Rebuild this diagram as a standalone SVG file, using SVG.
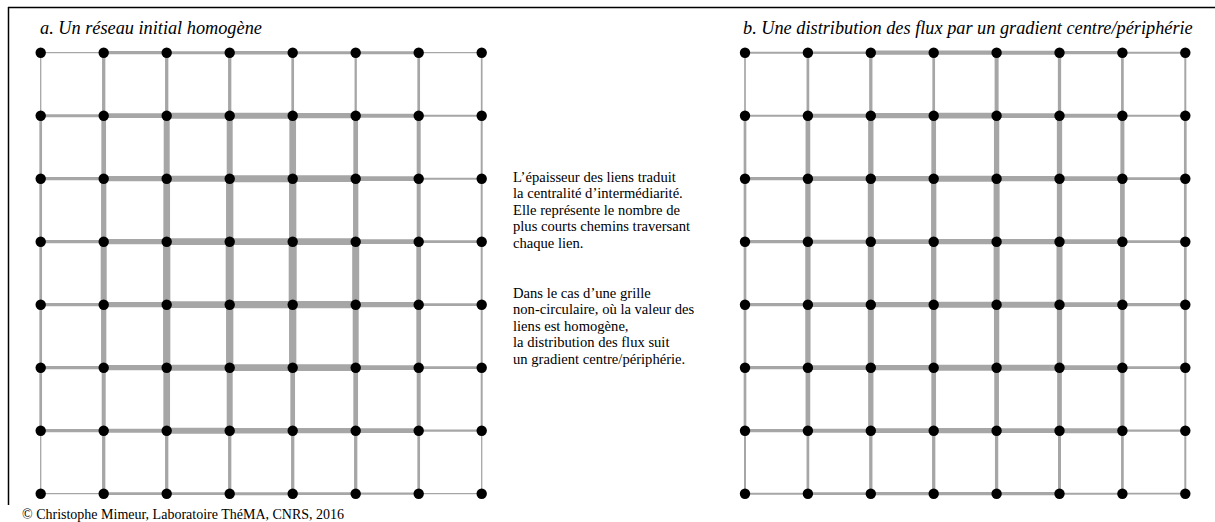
<svg xmlns="http://www.w3.org/2000/svg" width="1215" height="522" viewBox="0 0 1215 522">
<style>
.e path{fill:none;stroke:#a6a6a6;stroke-linecap:butt}
.n circle{fill:#000}
.t{font-family:"Liberation Serif","Times New Roman",serif;fill:#000}
.ti{font-style:italic;font-size:18.3px}
.p{font-size:14.6px}
.f{font-size:14px}
</style>
<rect width="1215" height="522" fill="#fff"/>
<path d="M8 7.5H1215M8.5 7V505" stroke="#000" stroke-width="1.5" fill="none"/>
<text class="t ti" x="40" y="34">a. Un réseau initial homogène</text>
<text class="t ti" x="743" y="34">b. Une distribution des flux par un gradient centre/périphérie</text>
<g class="t p">
<text x="513" y="181.6">L’épaisseur des liens traduit</text>
<text x="513" y="198.2">la centralité d’intermédiarité.</text>
<text x="513" y="214.8">Elle représente le nombre de</text>
<text x="513" y="231.4">plus courts chemins traversant</text>
<text x="513" y="248">chaque lien.</text>
<text x="513" y="297.6">Dans le cas d’une grille</text>
<text x="513" y="314.2">non-circulaire, où la valeur des</text>
<text x="513" y="330.8">liens est homogène,</text>
<text x="513" y="347.4">la distribution des flux suit</text>
<text x="513" y="364">un gradient centre/périphérie.</text>
</g>
<text class="t f" x="22" y="519">© Christophe Mimeur, Laboratoire ThéMA, CNRS, 2016</text>

<g id="connectors">
<g class="e" id="edges-a" transform="translate(40.7,52.7)">
<path d="M0 0h63" stroke-width="1.3"/><path d="M63 0h63" stroke-width="3.3"/><path d="M126 0h63" stroke-width="3"/><path d="M189 0h63" stroke-width="3.5"/><path d="M252 0h63" stroke-width="3"/><path d="M315 0h63" stroke-width="3"/><path d="M378 0h63" stroke-width="1.3"/>
<path d="M0 63h63" stroke-width="3"/><path d="M63 63h63" stroke-width="4.7"/><path d="M126 63h63" stroke-width="6"/><path d="M189 63h63" stroke-width="6"/><path d="M252 63h63" stroke-width="5.3"/><path d="M315 63h63" stroke-width="4"/><path d="M378 63h63" stroke-width="2"/>
<path d="M0 126h63" stroke-width="3.3"/><path d="M63 126h63" stroke-width="5.3"/><path d="M126 126h63" stroke-width="6"/><path d="M189 126h63" stroke-width="7"/><path d="M252 126h63" stroke-width="6.7"/><path d="M315 126h63" stroke-width="4.7"/><path d="M378 126h63" stroke-width="2"/>
<path d="M0 189h63" stroke-width="3.3"/><path d="M63 189h63" stroke-width="5.3"/><path d="M126 189h63" stroke-width="6.7"/><path d="M189 189h63" stroke-width="6.7"/><path d="M252 189h63" stroke-width="6.7"/><path d="M315 189h63" stroke-width="4.7"/><path d="M378 189h63" stroke-width="2.7"/>
<path d="M0 252h63" stroke-width="3.3"/><path d="M63 252h63" stroke-width="5.3"/><path d="M126 252h63" stroke-width="6.7"/><path d="M189 252h63" stroke-width="7.3"/><path d="M252 252h63" stroke-width="7.3"/><path d="M315 252h63" stroke-width="5.3"/><path d="M378 252h63" stroke-width="2.7"/>
<path d="M0 315h63" stroke-width="3.3"/><path d="M63 315h63" stroke-width="5.3"/><path d="M126 315h63" stroke-width="6"/><path d="M189 315h63" stroke-width="6.7"/><path d="M252 315h63" stroke-width="6.7"/><path d="M315 315h63" stroke-width="4.7"/><path d="M378 315h63" stroke-width="2.7"/>
<path d="M0 378h63" stroke-width="3.3"/><path d="M63 378h63" stroke-width="4"/><path d="M126 378h63" stroke-width="6"/><path d="M189 378h63" stroke-width="5.5"/><path d="M252 378h63" stroke-width="5.3"/><path d="M315 378h63" stroke-width="4.7"/><path d="M378 378h63" stroke-width="2.3"/>
<path d="M0 441h63" stroke-width="1.3"/><path d="M63 441h63" stroke-width="2.7"/><path d="M126 441h63" stroke-width="2.7"/><path d="M189 441h63" stroke-width="3"/><path d="M252 441h63" stroke-width="2.7"/><path d="M315 441h63" stroke-width="2.3"/><path d="M378 441h63" stroke-width="1.3"/>
<path d="M0 0v63" stroke-width="1.3"/><path d="M63 0v63" stroke-width="3.3"/><path d="M126 0v63" stroke-width="3.3"/><path d="M189 0v63" stroke-width="3.3"/><path d="M252 0v63" stroke-width="2.7"/><path d="M315 0v63" stroke-width="2.3"/><path d="M378 0v63" stroke-width="2.7"/><path d="M441 0v63" stroke-width="1.7"/>
<path d="M0 63v63" stroke-width="2.7"/><path d="M63 63v63" stroke-width="4.7"/><path d="M126 63v63" stroke-width="6"/><path d="M189 63v63" stroke-width="6"/><path d="M252 63v63" stroke-width="6.7"/><path d="M315 63v63" stroke-width="4.7"/><path d="M378 63v63" stroke-width="4"/><path d="M441 63v63" stroke-width="2"/>
<path d="M0 126v63" stroke-width="2.7"/><path d="M63 126v63" stroke-width="5.3"/><path d="M126 126v63" stroke-width="6.7"/><path d="M189 126v63" stroke-width="7.3"/><path d="M252 126v63" stroke-width="7.3"/><path d="M315 126v63" stroke-width="5.3"/><path d="M378 126v63" stroke-width="4"/><path d="M441 126v63" stroke-width="2"/>
<path d="M0 189v63" stroke-width="2.7"/><path d="M63 189v63" stroke-width="6"/><path d="M126 189v63" stroke-width="7.3"/><path d="M189 189v63" stroke-width="8"/><path d="M252 189v63" stroke-width="8"/><path d="M315 189v63" stroke-width="7"/><path d="M378 189v63" stroke-width="4.7"/><path d="M441 189v63" stroke-width="2"/>
<path d="M0 252v63" stroke-width="2.7"/><path d="M63 252v63" stroke-width="5.3"/><path d="M126 252v63" stroke-width="7.3"/><path d="M189 252v63" stroke-width="7.3"/><path d="M252 252v63" stroke-width="7.3"/><path d="M315 252v63" stroke-width="6"/><path d="M378 252v63" stroke-width="4.7"/><path d="M441 252v63" stroke-width="2"/>
<path d="M0 315v63" stroke-width="2.7"/><path d="M63 315v63" stroke-width="4"/><path d="M126 315v63" stroke-width="6.7"/><path d="M189 315v63" stroke-width="6"/><path d="M252 315v63" stroke-width="4.7"/><path d="M315 315v63" stroke-width="4.7"/><path d="M378 315v63" stroke-width="4"/><path d="M441 315v63" stroke-width="2"/>
<path d="M0 378v63" stroke-width="1.3"/><path d="M63 378v63" stroke-width="3.3"/><path d="M126 378v63" stroke-width="3.3"/><path d="M189 378v63" stroke-width="3.3"/><path d="M252 378v63" stroke-width="3.3"/><path d="M315 378v63" stroke-width="3.3"/><path d="M378 378v63" stroke-width="2.7"/><path d="M441 378v63" stroke-width="1.3"/>
</g>
<g class="e" id="edges-b" transform="translate(745,52.7)">
<path d="M0 0h62.9" stroke-width="2"/><path d="M62.9 0h62.9" stroke-width="2.5"/><path d="M125.8 0h62.9" stroke-width="4.3"/><path d="M188.7 0h62.9" stroke-width="4.3"/><path d="M251.6 0h62.9" stroke-width="4"/><path d="M314.5 0h62.9" stroke-width="3.3"/><path d="M377.4 0h62.9" stroke-width="2"/>
<path d="M0 63h62.9" stroke-width="2"/><path d="M62.9 63h62.9" stroke-width="4"/><path d="M125.8 63h62.9" stroke-width="5.3"/><path d="M188.7 63h62.9" stroke-width="5.7"/><path d="M251.6 63h62.9" stroke-width="4.7"/><path d="M314.5 63h62.9" stroke-width="4"/><path d="M377.4 63h62.9" stroke-width="2"/>
<path d="M0 126h62.9" stroke-width="3.3"/><path d="M62.9 126h62.9" stroke-width="4.7"/><path d="M125.8 126h62.9" stroke-width="5.3"/><path d="M188.7 126h62.9" stroke-width="6"/><path d="M251.6 126h62.9" stroke-width="5.3"/><path d="M314.5 126h62.9" stroke-width="4.7"/><path d="M377.4 126h62.9" stroke-width="2.7"/>
<path d="M0 189h62.9" stroke-width="3.3"/><path d="M62.9 189h62.9" stroke-width="4"/><path d="M125.8 189h62.9" stroke-width="4.7"/><path d="M188.7 189h62.9" stroke-width="5.3"/><path d="M251.6 189h62.9" stroke-width="5.3"/><path d="M314.5 189h62.9" stroke-width="4.7"/><path d="M377.4 189h62.9" stroke-width="2.7"/>
<path d="M0 252h62.9" stroke-width="3.3"/><path d="M62.9 252h62.9" stroke-width="4.7"/><path d="M125.8 252h62.9" stroke-width="5.3"/><path d="M188.7 252h62.9" stroke-width="6"/><path d="M251.6 252h62.9" stroke-width="6"/><path d="M314.5 252h62.9" stroke-width="4.7"/><path d="M377.4 252h62.9" stroke-width="3.3"/>
<path d="M0 315h62.9" stroke-width="3.3"/><path d="M62.9 315h62.9" stroke-width="4.7"/><path d="M125.8 315h62.9" stroke-width="5.3"/><path d="M188.7 315h62.9" stroke-width="6"/><path d="M251.6 315h62.9" stroke-width="6"/><path d="M314.5 315h62.9" stroke-width="4.7"/><path d="M377.4 315h62.9" stroke-width="2.7"/>
<path d="M0 378h62.9" stroke-width="3.3"/><path d="M62.9 378h62.9" stroke-width="4"/><path d="M125.8 378h62.9" stroke-width="4.7"/><path d="M188.7 378h62.9" stroke-width="5.3"/><path d="M251.6 378h62.9" stroke-width="4.7"/><path d="M314.5 378h62.9" stroke-width="5"/><path d="M377.4 378h62.9" stroke-width="2.3"/>
<path d="M0 441h62.9" stroke-width="2"/><path d="M62.9 441h62.9" stroke-width="2.7"/><path d="M125.8 441h62.9" stroke-width="3.3"/><path d="M188.7 441h62.9" stroke-width="3.3"/><path d="M251.6 441h62.9" stroke-width="3.3"/><path d="M314.5 441h62.9" stroke-width="2"/><path d="M377.4 441h62.9" stroke-width="1.7"/>
<path d="M0 0v63" stroke-width="1.7"/><path d="M62.9 0v63" stroke-width="2.7"/><path d="M125.8 0v63" stroke-width="3.3"/><path d="M188.7 0v63" stroke-width="2.7"/><path d="M251.6 0v63" stroke-width="4"/><path d="M314.5 0v63" stroke-width="3.3"/><path d="M377.4 0v63" stroke-width="2.7"/><path d="M440.3 0v63" stroke-width="2"/>
<path d="M0 63v63" stroke-width="2.7"/><path d="M62.9 63v63" stroke-width="4.7"/><path d="M125.8 63v63" stroke-width="5.3"/><path d="M188.7 63v63" stroke-width="4.7"/><path d="M251.6 63v63" stroke-width="5.3"/><path d="M314.5 63v63" stroke-width="5.3"/><path d="M377.4 63v63" stroke-width="4"/><path d="M440.3 63v63" stroke-width="2.7"/>
<path d="M0 126v63" stroke-width="2.7"/><path d="M62.9 126v63" stroke-width="5.3"/><path d="M125.8 126v63" stroke-width="6"/><path d="M188.7 126v63" stroke-width="5.3"/><path d="M251.6 126v63" stroke-width="6"/><path d="M314.5 126v63" stroke-width="5.3"/><path d="M377.4 126v63" stroke-width="4.7"/><path d="M440.3 126v63" stroke-width="2.7"/>
<path d="M0 189v63" stroke-width="2.7"/><path d="M62.9 189v63" stroke-width="5.3"/><path d="M125.8 189v63" stroke-width="6"/><path d="M188.7 189v63" stroke-width="5.3"/><path d="M251.6 189v63" stroke-width="6"/><path d="M314.5 189v63" stroke-width="6"/><path d="M377.4 189v63" stroke-width="4.7"/><path d="M440.3 189v63" stroke-width="2.7"/>
<path d="M0 252v63" stroke-width="2.7"/><path d="M62.9 252v63" stroke-width="5.3"/><path d="M125.8 252v63" stroke-width="6"/><path d="M188.7 252v63" stroke-width="5.3"/><path d="M251.6 252v63" stroke-width="5.3"/><path d="M314.5 252v63" stroke-width="5.3"/><path d="M377.4 252v63" stroke-width="4"/><path d="M440.3 252v63" stroke-width="2.7"/>
<path d="M0 315v63" stroke-width="2.7"/><path d="M62.9 315v63" stroke-width="4.7"/><path d="M125.8 315v63" stroke-width="5.3"/><path d="M188.7 315v63" stroke-width="4.7"/><path d="M251.6 315v63" stroke-width="4.7"/><path d="M314.5 315v63" stroke-width="4.7"/><path d="M377.4 315v63" stroke-width="4"/><path d="M440.3 315v63" stroke-width="2"/>
<path d="M0 378v63" stroke-width="2"/><path d="M62.9 378v63" stroke-width="2.7"/><path d="M125.8 378v63" stroke-width="3.3"/><path d="M188.7 378v63" stroke-width="3.3"/><path d="M251.6 378v63" stroke-width="3.3"/><path d="M314.5 378v63" stroke-width="3"/><path d="M377.4 378v63" stroke-width="2.7"/><path d="M440.3 378v63" stroke-width="2"/>
</g>
</g>

<g class="n" id="nodes-a" transform="translate(40.7,52.7)">
<g id="a00"><circle cx="0" cy="0" r="5.2"/></g><g id="a01"><circle cx="63" cy="0" r="5.2"/></g><g id="a02"><circle cx="126" cy="0" r="5.2"/></g><g id="a03"><circle cx="189" cy="0" r="5.2"/></g><g id="a04"><circle cx="252" cy="0" r="5.2"/></g><g id="a05"><circle cx="315" cy="0" r="5.2"/></g><g id="a06"><circle cx="378" cy="0" r="5.2"/></g><g id="a07"><circle cx="441" cy="0" r="5.2"/></g>
<g id="a10"><circle cx="0" cy="63" r="5.2"/></g><g id="a11"><circle cx="63" cy="63" r="5.2"/></g><g id="a12"><circle cx="126" cy="63" r="5.2"/></g><g id="a13"><circle cx="189" cy="63" r="5.2"/></g><g id="a14"><circle cx="252" cy="63" r="5.2"/></g><g id="a15"><circle cx="315" cy="63" r="5.2"/></g><g id="a16"><circle cx="378" cy="63" r="5.2"/></g><g id="a17"><circle cx="441" cy="63" r="5.2"/></g>
<g id="a20"><circle cx="0" cy="126" r="5.2"/></g><g id="a21"><circle cx="63" cy="126" r="5.2"/></g><g id="a22"><circle cx="126" cy="126" r="5.2"/></g><g id="a23"><circle cx="189" cy="126" r="5.2"/></g><g id="a24"><circle cx="252" cy="126" r="5.2"/></g><g id="a25"><circle cx="315" cy="126" r="5.2"/></g><g id="a26"><circle cx="378" cy="126" r="5.2"/></g><g id="a27"><circle cx="441" cy="126" r="5.2"/></g>
<g id="a30"><circle cx="0" cy="189" r="5.2"/></g><g id="a31"><circle cx="63" cy="189" r="5.2"/></g><g id="a32"><circle cx="126" cy="189" r="5.2"/></g><g id="a33"><circle cx="189" cy="189" r="5.2"/></g><g id="a34"><circle cx="252" cy="189" r="5.2"/></g><g id="a35"><circle cx="315" cy="189" r="5.2"/></g><g id="a36"><circle cx="378" cy="189" r="5.2"/></g><g id="a37"><circle cx="441" cy="189" r="5.2"/></g>
<g id="a40"><circle cx="0" cy="252" r="5.2"/></g><g id="a41"><circle cx="63" cy="252" r="5.2"/></g><g id="a42"><circle cx="126" cy="252" r="5.2"/></g><g id="a43"><circle cx="189" cy="252" r="5.2"/></g><g id="a44"><circle cx="252" cy="252" r="5.2"/></g><g id="a45"><circle cx="315" cy="252" r="5.2"/></g><g id="a46"><circle cx="378" cy="252" r="5.2"/></g><g id="a47"><circle cx="441" cy="252" r="5.2"/></g>
<g id="a50"><circle cx="0" cy="315" r="5.2"/></g><g id="a51"><circle cx="63" cy="315" r="5.2"/></g><g id="a52"><circle cx="126" cy="315" r="5.2"/></g><g id="a53"><circle cx="189" cy="315" r="5.2"/></g><g id="a54"><circle cx="252" cy="315" r="5.2"/></g><g id="a55"><circle cx="315" cy="315" r="5.2"/></g><g id="a56"><circle cx="378" cy="315" r="5.2"/></g><g id="a57"><circle cx="441" cy="315" r="5.2"/></g>
<g id="a60"><circle cx="0" cy="378" r="5.2"/></g><g id="a61"><circle cx="63" cy="378" r="5.2"/></g><g id="a62"><circle cx="126" cy="378" r="5.2"/></g><g id="a63"><circle cx="189" cy="378" r="5.2"/></g><g id="a64"><circle cx="252" cy="378" r="5.2"/></g><g id="a65"><circle cx="315" cy="378" r="5.2"/></g><g id="a66"><circle cx="378" cy="378" r="5.2"/></g><g id="a67"><circle cx="441" cy="378" r="5.2"/></g>
<g id="a70"><circle cx="0" cy="441" r="5.2"/></g><g id="a71"><circle cx="63" cy="441" r="5.2"/></g><g id="a72"><circle cx="126" cy="441" r="5.2"/></g><g id="a73"><circle cx="189" cy="441" r="5.2"/></g><g id="a74"><circle cx="252" cy="441" r="5.2"/></g><g id="a75"><circle cx="315" cy="441" r="5.2"/></g><g id="a76"><circle cx="378" cy="441" r="5.2"/></g><g id="a77"><circle cx="441" cy="441" r="5.2"/></g>
</g>
<g class="n" id="nodes-b" transform="translate(745,52.7)">
<g id="b00"><circle cx="0" cy="0" r="5.2"/></g><g id="b01"><circle cx="62.9" cy="0" r="5.2"/></g><g id="b02"><circle cx="125.8" cy="0" r="5.2"/></g><g id="b03"><circle cx="188.7" cy="0" r="5.2"/></g><g id="b04"><circle cx="251.6" cy="0" r="5.2"/></g><g id="b05"><circle cx="314.5" cy="0" r="5.2"/></g><g id="b06"><circle cx="377.4" cy="0" r="5.2"/></g><g id="b07"><circle cx="440.3" cy="0" r="5.2"/></g>
<g id="b10"><circle cx="0" cy="63" r="5.2"/></g><g id="b11"><circle cx="62.9" cy="63" r="5.2"/></g><g id="b12"><circle cx="125.8" cy="63" r="5.2"/></g><g id="b13"><circle cx="188.7" cy="63" r="5.2"/></g><g id="b14"><circle cx="251.6" cy="63" r="5.2"/></g><g id="b15"><circle cx="314.5" cy="63" r="5.2"/></g><g id="b16"><circle cx="377.4" cy="63" r="5.2"/></g><g id="b17"><circle cx="440.3" cy="63" r="5.2"/></g>
<g id="b20"><circle cx="0" cy="126" r="5.2"/></g><g id="b21"><circle cx="62.9" cy="126" r="5.2"/></g><g id="b22"><circle cx="125.8" cy="126" r="5.2"/></g><g id="b23"><circle cx="188.7" cy="126" r="5.2"/></g><g id="b24"><circle cx="251.6" cy="126" r="5.2"/></g><g id="b25"><circle cx="314.5" cy="126" r="5.2"/></g><g id="b26"><circle cx="377.4" cy="126" r="5.2"/></g><g id="b27"><circle cx="440.3" cy="126" r="5.2"/></g>
<g id="b30"><circle cx="0" cy="189" r="5.2"/></g><g id="b31"><circle cx="62.9" cy="189" r="5.2"/></g><g id="b32"><circle cx="125.8" cy="189" r="5.2"/></g><g id="b33"><circle cx="188.7" cy="189" r="5.2"/></g><g id="b34"><circle cx="251.6" cy="189" r="5.2"/></g><g id="b35"><circle cx="314.5" cy="189" r="5.2"/></g><g id="b36"><circle cx="377.4" cy="189" r="5.2"/></g><g id="b37"><circle cx="440.3" cy="189" r="5.2"/></g>
<g id="b40"><circle cx="0" cy="252" r="5.2"/></g><g id="b41"><circle cx="62.9" cy="252" r="5.2"/></g><g id="b42"><circle cx="125.8" cy="252" r="5.2"/></g><g id="b43"><circle cx="188.7" cy="252" r="5.2"/></g><g id="b44"><circle cx="251.6" cy="252" r="5.2"/></g><g id="b45"><circle cx="314.5" cy="252" r="5.2"/></g><g id="b46"><circle cx="377.4" cy="252" r="5.2"/></g><g id="b47"><circle cx="440.3" cy="252" r="5.2"/></g>
<g id="b50"><circle cx="0" cy="315" r="5.2"/></g><g id="b51"><circle cx="62.9" cy="315" r="5.2"/></g><g id="b52"><circle cx="125.8" cy="315" r="5.2"/></g><g id="b53"><circle cx="188.7" cy="315" r="5.2"/></g><g id="b54"><circle cx="251.6" cy="315" r="5.2"/></g><g id="b55"><circle cx="314.5" cy="315" r="5.2"/></g><g id="b56"><circle cx="377.4" cy="315" r="5.2"/></g><g id="b57"><circle cx="440.3" cy="315" r="5.2"/></g>
<g id="b60"><circle cx="0" cy="378" r="5.2"/></g><g id="b61"><circle cx="62.9" cy="378" r="5.2"/></g><g id="b62"><circle cx="125.8" cy="378" r="5.2"/></g><g id="b63"><circle cx="188.7" cy="378" r="5.2"/></g><g id="b64"><circle cx="251.6" cy="378" r="5.2"/></g><g id="b65"><circle cx="314.5" cy="378" r="5.2"/></g><g id="b66"><circle cx="377.4" cy="378" r="5.2"/></g><g id="b67"><circle cx="440.3" cy="378" r="5.2"/></g>
<g id="b70"><circle cx="0" cy="441" r="5.2"/></g><g id="b71"><circle cx="62.9" cy="441" r="5.2"/></g><g id="b72"><circle cx="125.8" cy="441" r="5.2"/></g><g id="b73"><circle cx="188.7" cy="441" r="5.2"/></g><g id="b74"><circle cx="251.6" cy="441" r="5.2"/></g><g id="b75"><circle cx="314.5" cy="441" r="5.2"/></g><g id="b76"><circle cx="377.4" cy="441" r="5.2"/></g><g id="b77"><circle cx="440.3" cy="441" r="5.2"/></g>
</g>
</svg>
